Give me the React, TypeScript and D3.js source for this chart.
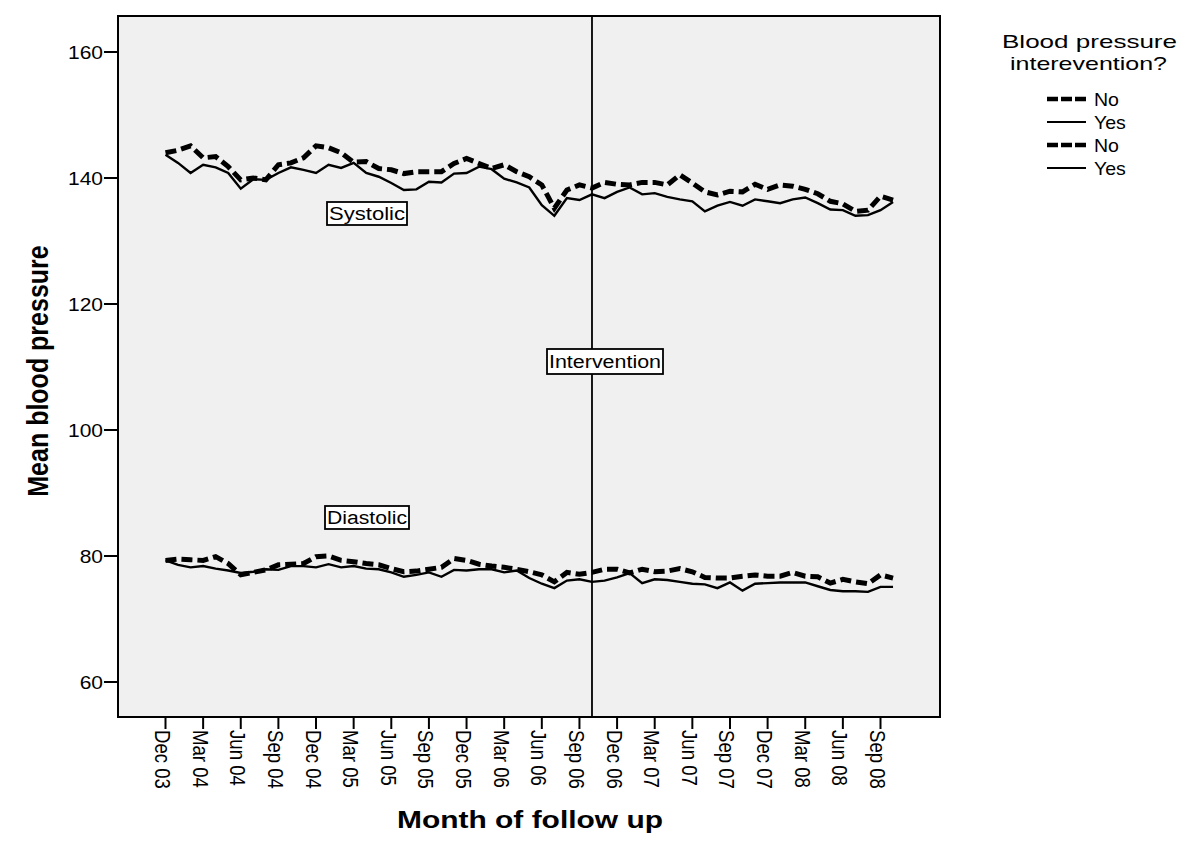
import React from "react";
import * as d3 from "d3";

const tickLabels = ["Dec 03","Mar 04","Jun 04","Sep 04","Dec 04","Mar 05","Jun 05","Sep 05","Dec 05","Mar 06","Jun 06","Sep 06","Dec 06","Mar 07","Jun 07","Sep 07","Dec 07","Mar 08","Jun 08","Sep 08"];
const yTicks = [60, 80, 100, 120, 140, 160];
const interventionMonth = 34;

const systolicNo = [144.0,144.4,145.1,143.2,143.4,141.8,139.7,140.0,139.7,142.1,142.4,143.2,145.1,144.8,144.0,142.5,142.6,141.5,141.3,140.7,141.0,141.0,141.0,142.3,143.1,142.3,141.5,142.1,141.0,140.2,138.9,135.2,138.1,138.9,138.4,139.3,139.0,138.9,139.3,139.3,138.9,140.5,139.2,137.8,137.3,137.9,137.8,139.0,138.2,138.9,138.7,138.2,137.5,136.3,135.9,134.7,134.9,137.1,136.5];
const systolicYes = [143.7,142.4,140.8,142.1,141.7,140.8,138.3,139.8,139.7,140.8,141.7,141.3,140.8,142.1,141.6,142.4,140.8,140.2,139.2,138.1,138.2,139.4,139.3,140.7,140.8,141.8,141.4,139.9,139.3,138.5,135.7,134.0,136.8,136.5,137.4,136.8,137.8,138.5,137.4,137.6,137.0,136.6,136.3,134.7,135.6,136.2,135.6,136.6,136.3,136.0,136.6,136.9,136.0,135.0,134.9,134.0,134.1,134.9,136.2];
const diastolicNo = [79.3,79.5,79.4,79.3,79.9,78.8,77.0,77.4,77.8,78.6,78.7,78.8,79.9,80.0,79.3,79.1,78.8,78.6,78.0,77.5,77.6,77.9,78.2,79.6,79.3,78.7,78.4,78.2,77.9,77.5,77.0,75.9,77.4,77.1,77.4,77.9,77.9,77.3,77.9,77.5,77.6,78.0,77.5,76.6,76.5,76.5,76.8,77.0,76.8,76.8,77.4,76.8,76.7,75.7,76.3,75.9,75.6,77.0,76.5];
const diastolicYes = [79.3,78.6,78.2,78.4,78.0,77.7,77.3,77.5,77.9,77.8,78.4,78.4,78.2,78.7,78.2,78.4,78.0,77.9,77.4,76.7,77.0,77.4,76.7,77.8,77.7,77.9,77.9,77.4,77.7,76.5,75.6,74.9,76.1,76.3,75.9,76.1,76.6,77.3,75.7,76.3,76.2,75.9,75.6,75.5,74.9,75.8,74.5,75.6,75.7,75.8,75.8,75.8,75.2,74.6,74.4,74.4,74.3,75.1,75.1];

const legendItems = [
  { label: "No", dashed: true },
  { label: "Yes", dashed: false },
  { label: "No", dashed: true },
  { label: "Yes", dashed: false },
];

const FONT = "Arial, 'Liberation Sans', sans-serif";
const SX = 1.15;

function T(props: { x: number; y: number; size: number; anchor?: string; bold?: boolean; sx?: number; children: React.ReactNode }) {
  const { x, y, size, anchor = "start", bold = false, sx = SX, children } = props;
  return (
    <text transform={`translate(${x},${y}) scale(${sx},1)`} textAnchor={anchor} fontSize={size}
      fontWeight={bold ? "bold" : "normal"} fontFamily={FONT}>{children}</text>
  );
}

export default function App() {
  const W = 1200, H = 844;
  const left = 118, right = 940, top = 16, bottom = 717;
  const x = d3.scaleLinear().domain([0, 57]).range([165.5, 880.5]);
  const y = d3.scaleLinear().domain([60, 160]).range([682, 52]);
  const line = d3.line<number>().x((_, i) => x(i)).y((d) => y(d));

  const series = [
    { data: systolicNo, dashed: true },
    { data: systolicYes, dashed: false },
    { data: diastolicNo, dashed: true },
    { data: diastolicYes, dashed: false },
  ];

  const labelBox = (text: string, bx: number, by: number, bw: number, bh: number) => (
    <g>
      <rect x={bx} y={by} width={bw} height={bh} fill="#ffffff" stroke="#000" strokeWidth={1.8} />
      <text x={bx + 2} y={by + bh / 2 + 6.5} textLength={bw - 4} lengthAdjust="spacingAndGlyphs"
        fontSize={18} fontFamily={FONT}>{text}</text>
    </g>
  );

  return (
    <svg width={W} height={H} style={{ position: "absolute", left: 0, top: 0, background: "#fff" }}>
      <rect x={left} y={top} width={right - left} height={bottom - top} fill="#f0f0f0" stroke="#000" strokeWidth={2} />
      {yTicks.map((t) => (
        <g key={t}>
          <line x1={left - 14} x2={left} y1={y(t)} y2={y(t)} stroke="#000" strokeWidth={2} />
          <T x={left - 15} y={y(t) + 7} size={18.6} anchor="end" sx={1.13}>{t}</T>
        </g>
      ))}
      {tickLabels.map((lab, i) => {
        const tx = x(i * 3);
        return (
          <g key={lab}>
            <line x1={tx} x2={tx} y1={bottom} y2={bottom + 12} stroke="#000" strokeWidth={2} />
            <text transform={`translate(${tx - 10.5},${bottom + 13}) scale(${SX},1) rotate(90)`} textAnchor="start"
              fontSize={18.6} fontFamily={FONT}>{lab}</text>
          </g>
        );
      })}
      <line x1={x(interventionMonth)} x2={x(interventionMonth)} y1={top} y2={bottom} stroke="#000" strokeWidth={1.8} />
      {series.map((s, i) => (
        <path key={i} d={line(s.data) || ""} fill="none" stroke="#000"
          strokeWidth={s.dashed ? 5 : 2.4}
          strokeDasharray={s.dashed ? "11,5" : undefined}
          strokeLinejoin="miter" />
      ))}
      {labelBox("Systolic", 327, 202, 80, 23)}
      {labelBox("Intervention", 547, 349, 116, 25)}
      {labelBox("Diastolic", 325, 506, 84, 23)}
      <text transform={`translate(48,371) scale(1.2,1) rotate(-90)`} textAnchor="middle" fontSize={25} fontWeight="bold" fontFamily={FONT}>Mean blood pressure</text>
      <text x={397} y={828} textLength={266} lengthAdjust="spacingAndGlyphs" fontSize={24.5} fontWeight="bold" fontFamily={FONT}>Month of follow up</text>
      <text x={1002} y={48} textLength={175} lengthAdjust="spacingAndGlyphs" fontSize={19} fontFamily={FONT}>Blood pressure</text>
      <text x={1010} y={69.5} textLength={157} lengthAdjust="spacingAndGlyphs" fontSize={19} fontFamily={FONT}>interevention?</text>
      {legendItems.map((it, i) => {
        const ly = 99 + i * 23;
        return (
          <g key={i}>
            <line x1={1047} x2={1086} y1={ly} y2={ly} stroke="#000"
              strokeWidth={it.dashed ? 4.5 : 2} strokeDasharray={it.dashed ? "11,3" : undefined} />
            <T x={1094} y={ly + 7} size={18.6} sx={1.05}>{it.label}</T>
          </g>
        );
      })}
    </svg>
  );
}
